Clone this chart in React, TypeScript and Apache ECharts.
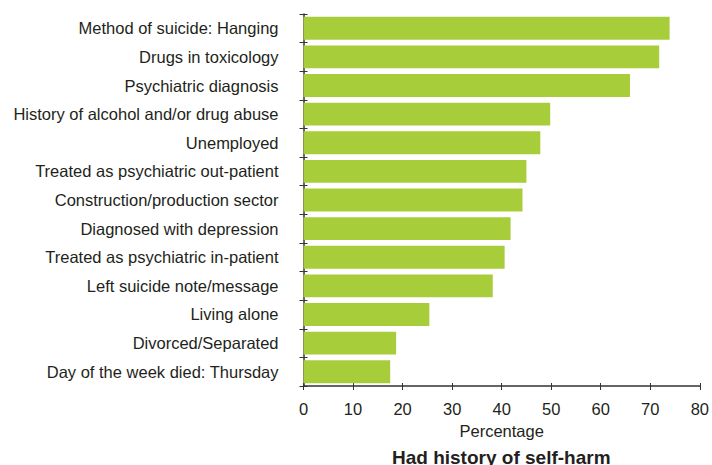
import React, { useEffect, useRef } from "react";
import * as echarts from "echarts";

const categories = [
  "Method of suicide: Hanging",
  "Drugs in toxicology",
  "Psychiatric diagnosis",
  "History of alcohol and/or drug abuse",
  "Unemployed",
  "Treated as psychiatric out-patient",
  "Construction/production sector",
  "Diagnosed with depression",
  "Treated as psychiatric in-patient",
  "Left suicide note/message",
  "Living alone",
  "Divorced/Separated",
  "Day of the week died: Thursday",
];
const values = [73.9, 71.8, 65.9, 49.8, 47.8, 45.0, 44.2, 41.8, 40.6, 38.2, 25.4, 18.7, 17.5];
const xTicks = { min: 0, max: 80, interval: 10 };
const xName = "Percentage";
const chartTitle = "Had history of self-harm";

const FONT = "Liberation Sans, Arial, sans-serif";
const TEXT = "#231f20";
const AXIS = "#333333";

export default function App() {
  const ref = useRef<HTMLDivElement>(null);
  useEffect(() => {
    if (!ref.current) return;
    const chart = echarts.init(ref.current, null, { renderer: "svg" });
    chart.setOption({
      animation: false,
      grid: { left: 303.5, right: 8, top: 14, bottom: 79, containLabel: false },
      xAxis: [
        {
          type: "value",
          min: xTicks.min,
          max: xTicks.max,
          interval: xTicks.interval,
          position: "bottom",
          name: xName,
          nameLocation: "middle",
          nameGap: 36,
          nameTextStyle: { color: TEXT, fontSize: 16.5, fontFamily: FONT },
          axisLine: { show: true, lineStyle: { color: AXIS, width: 1.5 } },
          axisTick: { show: true, length: 4, lineStyle: { color: AXIS } },
          axisLabel: { color: TEXT, fontSize: 16.5, fontFamily: FONT, margin: 14 },
          splitLine: { show: false },
        },
        {
          type: "value",
          min: xTicks.min,
          max: xTicks.max,
          interval: xTicks.interval,
          position: "bottom",
          axisLine: { show: false },
          axisTick: { show: true, inside: true, length: 3, lineStyle: { color: AXIS } },
          axisLabel: { show: false },
          splitLine: { show: false },
        },
      ],
      yAxis: [
        {
          type: "category",
          data: categories,
          inverse: true,
          position: "left",
          axisLine: { show: true, lineStyle: { color: AXIS, width: 1.5 } },
          axisTick: { show: true, length: 4, lineStyle: { color: AXIS } },
          axisLabel: { color: TEXT, fontSize: 16.5, fontFamily: FONT, margin: 25 },
        },
        {
          type: "category",
          data: categories,
          inverse: true,
          position: "left",
          axisLine: { show: false },
          axisTick: { show: true, inside: true, length: 4, lineStyle: { color: AXIS } },
          axisLabel: { show: false },
        },
      ],
      graphic: [
        {
          type: "text",
          left: 504 - 112,
          top: 448,
          style: {
            text: chartTitle,
            fill: TEXT,
            font: `bold 19px ${FONT}`,
          },
        },
      ],
      series: [
        {
          type: "bar",
          data: values,
          xAxisIndex: 0,
          yAxisIndex: 0,
          barCategoryGap: "20%",
          itemStyle: { color: "#a8cd3b" },
          silent: true,
        },
      ],
    });
    return () => chart.dispose();
  }, []);
  return (
    <div
      ref={ref}
      style={{ position: "fixed", left: 0, top: 0, width: 712, height: 465, background: "#fff" }}
    />
  );
}
